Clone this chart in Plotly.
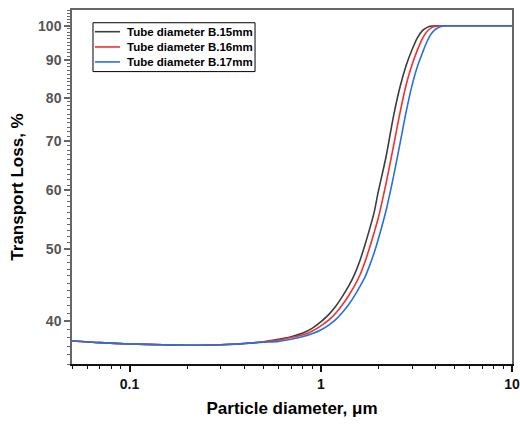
import plotly.graph_objects as go

diameter_um = [0.05, 0.07, 0.1, 0.15, 0.2, 0.3, 0.4, 0.5, 0.6, 0.7, 0.8, 0.9, 1.0,
               1.1, 1.2, 1.3, 1.4, 1.5, 1.6, 1.7, 1.8, 1.9, 2.0, 2.2, 2.4, 2.6,
               2.8, 3.0, 3.2, 3.4, 3.6, 3.8, 4.0, 4.3, 4.6, 5.0, 6.0, 7.0, 8.0, 10.0]

loss_b15 = [37.6, 37.4, 37.25, 37.15, 37.1, 37.15, 37.3, 37.5, 37.8, 38.1, 38.5, 39.1, 39.9,
            40.8, 41.9, 43.2, 44.6, 46.2, 48.2, 50.6, 53.2, 56.0, 59.8, 66.8, 75.5, 82.8,
            88.5, 92.8, 96.3, 98.5, 99.5, 99.9, 100, 100, 100, 100, 100, 100, 100, 100]

loss_b16 = [37.6, 37.4, 37.25, 37.15, 37.1, 37.15, 37.3, 37.5, 37.7, 38.0, 38.3, 38.75, 39.4,
            40.1, 41.0, 42.1, 43.3, 44.6, 46.1, 48.0, 50.2, 52.6, 55.1, 61.5, 68.8, 76.5,
            83.4, 88.6, 92.7, 96.1, 98.3, 99.4, 99.85, 100, 100, 100, 100, 100, 100, 100]

loss_b17 = [37.6, 37.4, 37.25, 37.15, 37.1, 37.15, 37.3, 37.45, 37.55, 37.8, 38.1, 38.45, 38.9,
            39.5, 40.2, 41.1, 42.1, 43.25, 44.5, 45.8, 47.5, 49.4, 51.6, 56.5, 62.6, 69.5,
            76.7, 83.1, 88.1, 91.9, 95.3, 97.7, 99.0, 99.85, 100, 100, 100, 100, 100, 100]

series_names = ["Tube diameter B.15mm", "Tube diameter B.16mm", "Tube diameter B.17mm"]
series_colors = ["#3d3d3d", "#f2302e", "#2670e0"]

y_tick_vals = [40, 50, 60, 70, 80, 90, 100]
x_tick_vals = [0.1, 1, 10]
x_tick_text = ["0.1", "1", "10"]

y_minor = [v for v in range(35, 106) if v not in y_tick_vals]
x_minor = [m * 10 ** e for e in (-2, -1, 0) for m in range(2, 10)]

FONT = "Liberation Sans, Arial"

fig = go.Figure()
for name, ys, col in zip(series_names, [loss_b15, loss_b16, loss_b17], series_colors):
    fig.add_trace(go.Scatter(x=diameter_um, y=ys, mode="lines", name=name, showlegend=False,
                             line=dict(color=col, width=1.6, shape="spline", smoothing=0.8)))

# compact legend box drawn in paper coordinates, like the original
fig.add_shape(type="rect", xref="paper", yref="paper", x0=0.0477, x1=0.416, y0=0.826, y1=0.964,
              line=dict(color="black", width=1), fillcolor="white", layer="above")
row_y = [0.9387, 0.8956, 0.8533]
for col, ry in zip(series_colors, row_y):
    fig.add_shape(type="line", xref="paper", yref="paper", x0=0.052, x1=0.109, y0=ry, y1=ry,
                  line=dict(color=col, width=1.6), layer="above")
fig.add_annotation(xref="paper", yref="paper", x=0.1195, y=row_y[1], xanchor="left", yanchor="middle",
                   text="<br>".join(series_names), showarrow=False, align="left",
                   font=dict(family=FONT, size=11.5, color="black", weight="bold"))

fig.update_layout(
    width=520, height=425,
    margin=dict(l=72, r=8, t=10, b=61, autoexpand=False),
    paper_bgcolor="white", plot_bgcolor="white",
    font=dict(family=FONT, color="black"),
    xaxis=dict(type="log", range=[-1.30103, 1.0], tickvals=x_tick_vals, ticktext=x_tick_text,
               ticks="outside", ticklen=6, tickwidth=1.5, tickcolor="#111111",
               showline=True, linecolor="#111111", linewidth=1.6, mirror=False,
               showgrid=False, zeroline=False, ticklabeloverflow="allow", automargin=False,
               tickfont=dict(family=FONT, size=14, color="#111111", weight="bold"),
               minor=dict(tickvals=x_minor, ticks="outside", ticklen=3, tickwidth=1,
                          tickcolor="#111111", showgrid=False),
               title=dict(text="Particle diameter, μm", standoff=12,
                          font=dict(family=FONT, size=17, color="black", weight="bold"))),
    xaxis2=dict(overlaying="x", side="top", showline=True, linecolor="#666666", linewidth=1.5,
                showticklabels=False, ticks="", showgrid=False, zeroline=False, range=[0, 1],
                automargin=False),
    yaxis=dict(type="log", range=[1.5441, 2.0212], tickvals=y_tick_vals,
               ticks="outside", ticklen=6, tickwidth=1.5, tickcolor="#666666",
               showline=True, linecolor="#666666", linewidth=1.5, mirror=True,
               showgrid=False, zeroline=False, automargin=False,
               tickfont=dict(family=FONT, size=14, color="#555555", weight="bold"),
               minor=dict(tickvals=y_minor, ticks="outside", ticklen=3, tickwidth=1,
                          tickcolor="#666666", showgrid=False),
               title=dict(text="Transport Loss, %", standoff=10,
                          font=dict(family=FONT, size=17, color="black", weight="bold"))),
)
# invisible trace to activate the top axis line
fig.add_trace(go.Scatter(x=[0.5], y=[70], xaxis="x2", mode="markers",
                         marker=dict(opacity=0), showlegend=False, hoverinfo="skip"))

fig.write_html("out.html", config={"displayModeBar": False},
               post_script="document.body.style.margin='0';document.documentElement.style.overflow='hidden';")
